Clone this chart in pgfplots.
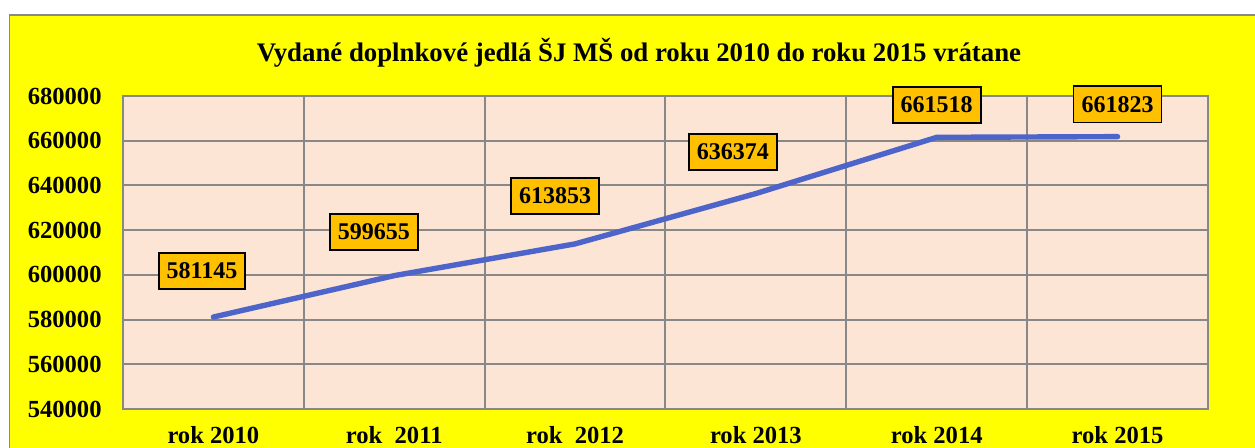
\documentclass[border=0pt]{standalone}
\usepackage{pgfplots}
\pgfplotsset{compat=1.18}
\usepackage{fontspec}
\setmainfont{Liberation Serif}

\definecolor{frameyellow}{RGB}{255,255,0}
\definecolor{plotpeach}{RGB}{253,229,213}
\definecolor{gridgray}{RGB}{136,136,136}
\definecolor{lineblue}{RGB}{77,101,203}
\definecolor{boxorange}{RGB}{255,192,0}

\begin{document}
\begin{tikzpicture}
\useasboundingbox (-61.5pt,-19pt) rectangle (566pt,204.5pt);
\begin{scope}
  \clip (-61.5pt,-19pt) rectangle (566pt,204.5pt);
  \fill[white] (-61.5pt,-19pt) rectangle (566pt,204.5pt);
  \draw[gridgray, line width=0.7pt, fill=frameyellow] (-56.75pt,-40pt) rectangle (590pt,197pt);
\end{scope}
\begin{axis}[
    scale only axis,
    width=542.5pt, height=156.5pt,
    clip=false,
    xmin=-0.5, xmax=5.5,
    ymin=540000, ymax=680000,
    scaled y ticks=false,
    axis background/.style={fill=plotpeach},
    axis line style={gridgray, line width=1pt},
    xtick={0,1,2,3,4,5},
    xticklabels={rok 2010, rok\ \ 2011, rok\ \ 2012, rok 2013, rok 2014, rok 2015},
    minor xtick={0.5,1.5,2.5,3.5,4.5},
    xminorgrids=true,
    ytick={540000,560000,580000,600000,620000,640000,660000,680000},
    yticklabels={540000,560000,580000,600000,620000,640000,660000,680000},
    ymajorgrids=true,
    grid style={gridgray, line width=1pt},
    minor grid style={gridgray, line width=1pt},
    major tick length=0pt, minor tick length=0pt,
    tick style={draw=none},
    xticklabel style={anchor=base, yshift=-17pt, inner sep=0pt,
        font=\bfseries\fontsize{12.3}{14}\selectfont},
    yticklabel style={anchor=east, xshift=-10.5pt, inner sep=0pt,
        font=\bfseries\fontsize{12.3}{14}\selectfont},
    title={Vydané doplnkové jedlá ŠJ MŠ od roku 2010 do roku 2015 vrátane},
    title style={at={(0.4756,1.073)}, anchor=base,
        font=\bfseries\fontsize{13.4}{15}\selectfont},
]
% values
\addplot[lineblue, line width=2.7pt, line cap=round, line join=round, mark=none]
    coordinates {(0,581145)(1,599655)(2,613853)(3,636374)(4,661518)(5,661823)};

% data labels (box positions)
\addplot[draw=none, mark=none, forget plot,
    point meta=explicit symbolic,
    nodes near coords,
    every node near coord/.style={anchor=center, fill=boxorange, draw=black,
        line width=0.9pt, inner xsep=4pt, inner ysep=5pt, text=black,
        font=\bfseries\fontsize{12}{14}\selectfont}]
    coordinates {
    (-0.063,601725)[581145]
    (0.888,619170)[599655]
    (1.889,635272)[613853]
    (2.873,654952)[636374]
    (4.0,675974)[661518]
    (5.0,676290)[661823]
    };
\end{axis}
\end{tikzpicture}
\end{document}
